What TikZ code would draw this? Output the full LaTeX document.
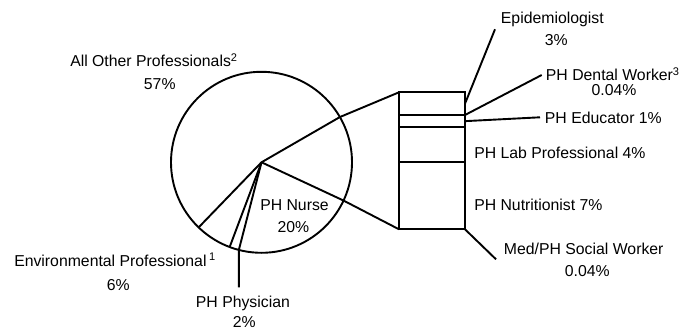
\documentclass[tikz,border=0pt]{standalone}
\usepackage{fontspec}
\setmainfont{Liberation Sans}
\usetikzlibrary{calc,positioning}

\begin{document}
\begin{tikzpicture}[x=1pt,y=-1pt,line width=1.9pt,
  lbl/.style={anchor=base west,inner sep=0pt,font=\fontsize{15.8}{18}\selectfont},
  seg/.style={draw,rectangle,minimum width=66pt,inner sep=0pt,outer sep=0pt}]

  \useasboundingbox (0,0) rectangle (679,331);

  % pie
  \coordinate (o) at (261.5,162.3);
  \draw (o) circle [radius=90.5pt];
  \foreach \a/\n in {30/a,-25/b,-104.5/c,-110.6/d,-134/e}
    \draw (o) -- ($(o)+(\a:90.5pt)$) coordinate (p\n);

  % stacked bar
  \node[seg,minimum height=22.7pt,anchor=north west] (epi) at (399,92.3) {};
  \node[seg,minimum height=12.3pt,below=0pt of epi] (edu) {};
  \node[seg,minimum height=35pt,below=0pt of edu] (lab) {};
  \node[seg,minimum height=67pt,below=0pt of lab] (nut) {};
  \draw (pa) -- (epi.north west);
  \draw (pb) -- (nut.south west);

  \coordinate (physend) at (238.8,287.3);
  \coordinate (epiend) at (495,29.3);
  \coordinate (dentend) at (541.7,75);
  \coordinate (eduend) at (540,117.3);
  \coordinate (socend) at (496,259.3);
  \draw (pc) -- (physend);
  \draw (epi.east) -- (epiend);
  \draw (epi.south east) -- (dentend);
  \draw (edu.east) -- (eduend);
  \draw (nut.south east) -- (socend);

  \node[lbl] (othlab) at (69.3,66.5) {All Other Professionals\textsuperscript{2}};
  \node[lbl] (othpct) at (143,90) {57\%};
  \node[lbl] (envlab) at (13.3,266) {Environmental Professional\,\textsuperscript{1}};
  \node[lbl] (envpct) at (106,290) {6\%};
  \node[lbl] (phylab) at (195,307) {PH Physician};
  \node[lbl] (phypct) at (232,327.5) {2\%};
  \node[lbl] (nurlab) at (259.3,210.7) {PH Nurse};
  \node[lbl] (nurpct) at (276.7,232.7) {20\%};

  \node[lbl] (epilab) at (500,24) {Epidemiologist};
  \node[lbl] (epipct) at (544,45.7) {3\%};
  \node[lbl] (dentlab) at (545,81) {PH Dental Worker\textsuperscript{3}};
  \node[lbl] (dentpct) at (590.7,96) {0.04\%};
  \node[lbl] (edulab) at (544,123.3) {PH Educator 1\%};
  \node[lbl] (lablab) at (473.3,158.3) {PH Lab Professional 4\%};
  \node[lbl] (nutlab) at (473.3,210) {PH Nutritionist 7\%};
  \node[lbl] (soclab) at (503,254) {Med/PH Social Worker};
  \node[lbl] (socpct) at (564,276.7) {0.04\%};

\end{tikzpicture}
\end{document}
